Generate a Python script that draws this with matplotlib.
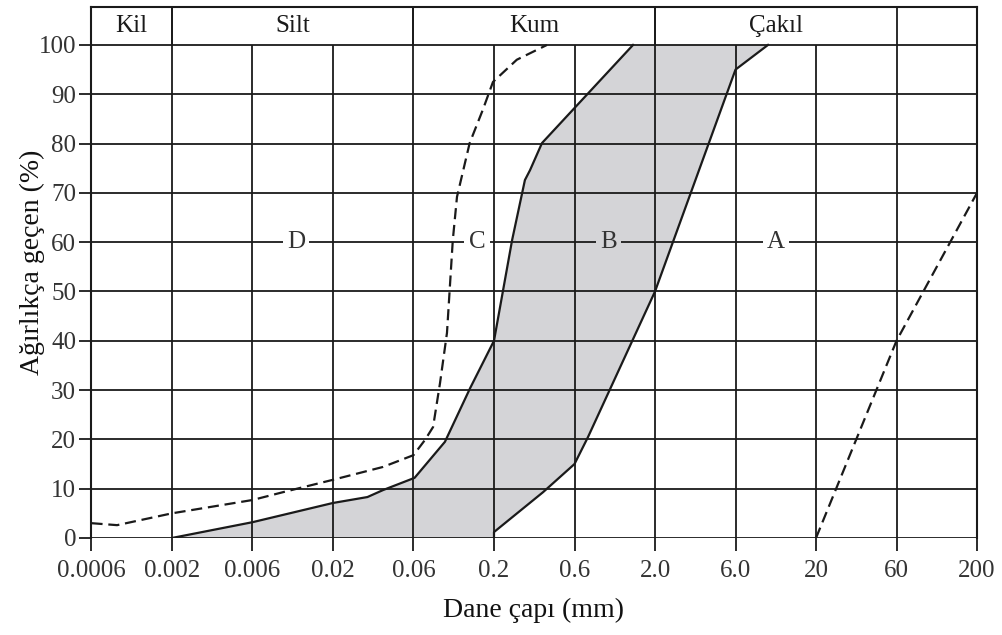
"""
Dane çapı dağılımı (granülometri) eğrileri - A, B, C, D zeminleri
"""
# Library import ------------------------------------------

import numpy as np
import matplotlib
matplotlib.use('Agg')
import matplotlib.pyplot as plt

# Data ----------------------------------------------------

tick_vals = [0.0006, 0.002, 0.006, 0.02, 0.06, 0.2, 0.6, 2.0, 6.0, 20, 60, 200]
tick_labels = ['0.0006', '0.002', '0.006', '0.02', '0.06', '0.2', '0.6',
               '2.0', '6.0', '20', '60', '200']
y_ticks = list(range(0, 101, 10))

# B bandı (gri alan) - sol ve sağ sınırlar
b_left_x = [0.002, 0.006, 0.02, 0.032, 0.0395, 0.061, 0.096, 0.14, 0.2,
            0.256, 0.305, 0.327, 0.385, 1.44]
b_left_y = [0, 3.2, 7.1, 8.3, 9.7, 12.2, 19.5, 30.4, 40,
            60.4, 72.6, 74.6, 80.1, 100]
b_right_x = [0.2, 0.2, 0.391, 0.6, 0.735, 2.0, 6.0, 9.75]
b_right_y = [0, 1.2, 9.3, 15, 20.5, 50, 95, 100]

# C eğrisi (kesikli)
c_x = [0.0006, 0.00088, 0.002, 0.006, 0.0095, 0.02, 0.0395, 0.06, 0.0713,
       0.0804, 0.0892, 0.099, 0.108, 0.115, 0.139, 0.169, 0.197, 0.273, 0.412]
c_y = [3.0, 2.6, 5.0, 7.7, 9.3, 11.8, 14.4, 16.8, 19.9,
       22.5, 31.4, 41.6, 60.4, 69.2, 80.1, 86.8, 92.5, 97, 100]

# A eğrisi (kesikli)
a_x = [20, 60, 200]
a_y = [0, 40, 70]

# Bölge etiketleri
zone_names = ['D', 'C', 'B', 'A']
zone_x = [0.0115, 0.155, 1.0, 11.0]

# Üst şerit (sınıflar)
class_names = ['Kil', 'Silt', 'Kum', 'Çakıl']
class_bounds = [(0.0006, 0.002), (0.002, 0.06), (0.06, 2.0), (2.0, 60)]

# Scale ---------------------------------------------------

log_ticks = np.log10(tick_vals)
idx = np.arange(len(tick_vals), dtype=float)

def fwd(x):
    x = np.clip(np.asarray(x, dtype=float), 1e-9, None)
    return np.interp(np.log10(x), log_ticks, idx)

def inv(i):
    return 10 ** np.interp(np.asarray(i, dtype=float), idx, log_ticks)

# Plot ====================================================

plt.rcParams['font.family'] = ['Liberation Serif', 'DejaVu Serif']
txt_col = '#333333'
line_col = '#1a1a1a'
fill_col = '#d4d4d7'
dash = (0, (5, 2.6))

fig = plt.figure(figsize=(10.03, 6.35), dpi=100)
ax = fig.add_axes([0.0912, 0.1528, 0.8829, 0.8362])
ax.set_xscale('function', functions=(fwd, inv))
ax.set_xlim(tick_vals[0], tick_vals[-1])
ax.set_ylim(0, 107.7)

# grid
ax.vlines(tick_vals, 0, 100, color=line_col, lw=1.3, zorder=2)
ax.hlines(y_ticks, tick_vals[0], tick_vals[-1], color=line_col, lw=1.3, zorder=2)
for lo, hi in class_bounds:
    ax.vlines([lo, hi], 100, 107.7, color=line_col, lw=1.3, zorder=2)

# B bandı
poly_x = b_left_x + b_right_x[::-1]
poly_y = b_left_y + b_right_y[::-1]
ax.fill(poly_x, poly_y, color=fill_col, lw=0, zorder=1)
ax.plot(b_left_x, b_left_y, color=line_col, lw=1.6, zorder=3)
ax.plot(b_right_x, b_right_y, color=line_col, lw=1.6, zorder=3)

# C ve A
ax.plot(c_x, c_y, color=line_col, lw=1.6, ls=dash, zorder=3)
ax.plot(a_x, a_y, color=line_col, lw=1.6, ls=dash, zorder=3)

for name, x in zip(zone_names, zone_x):
    bg = fill_col if name == 'B' else 'white'
    ax.text(x, 60, name, ha='center', va='center', fontsize=18, color=txt_col,
            zorder=4, bbox=dict(facecolor=bg, edgecolor='none', pad=3))

for name, (lo, hi) in zip(class_names, class_bounds):
    xm = inv((fwd(lo) + fwd(hi)) / 2)
    ax.text(xm, 103.9, name, ha='center', va='center', fontsize=18, color='#1a1a1a')

ax.set_xticks(tick_vals)
ax.set_xticklabels(tick_labels)
ax.xaxis.set_minor_locator(matplotlib.ticker.NullLocator())
ax.set_yticks(y_ticks)
ax.tick_params(axis='x', pad=7)
ax.tick_params(axis='y', pad=2)
ax.tick_params(axis='both', length=9, width=1.3, color=line_col,
               labelsize=18, labelcolor=txt_col)
for s in ax.spines.values():
    s.set_linewidth(1.5)
    s.set_color(line_col)
ax.spines['bottom'].set_visible(False)

ax.set_xlabel('Dane çapı (mm)', fontsize=20, color='#111111')
ax.set_ylabel('Ağırlıkça geçen (%)', fontsize=20, color='#111111')
ax.xaxis.set_label_coords(0.499, -0.113)
ax.yaxis.set_label_coords(-0.052, 0.52)

plt.savefig('out.png', dpi=100)
